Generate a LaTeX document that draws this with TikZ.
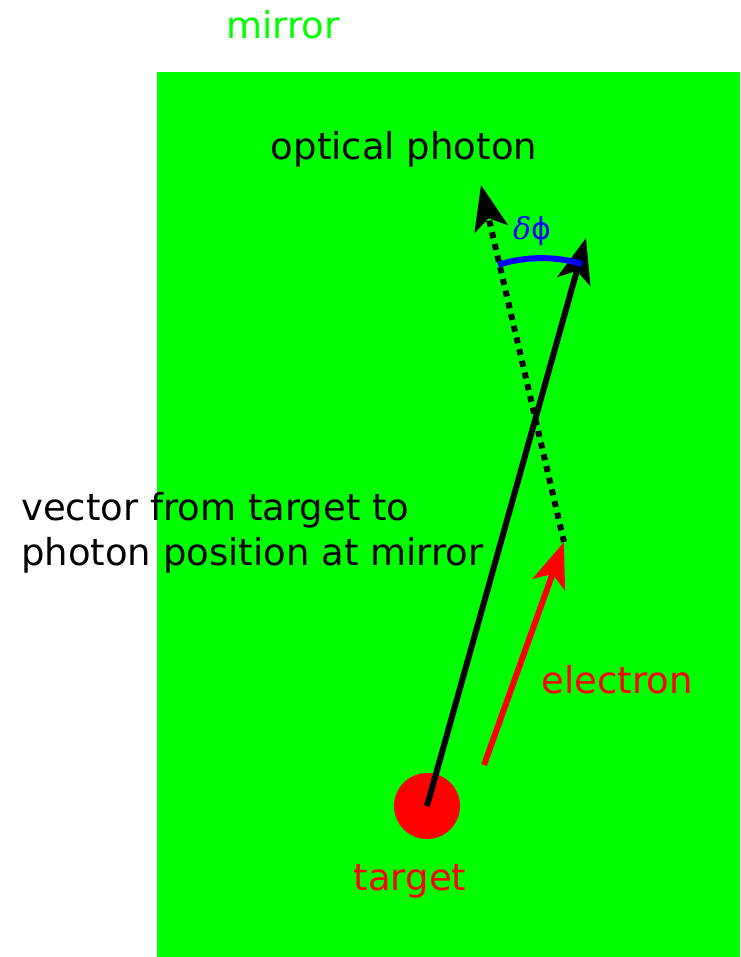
\documentclass[tikz,border=0pt]{standalone}
\usepackage{fontspec}
\setmainfont{DejaVu Sans}
\newfontfamily\serifgreek{DejaVu Serif}
\usetikzlibrary{arrows.meta,
                positioning}

\begin{document}
\begin{tikzpicture}[x=1pt, y=-1pt,
every node/.style = {font=\fontsize{37}{45}\selectfont, inner sep=0pt},
big arrow/.style  = {-{Stealth[length=45pt, width=34pt, inset=11pt]},
                     line width=6pt},
photon/.style     = {big arrow, dash pattern=on 6pt off 6pt}
                    ]
\useasboundingbox (0,0) rectangle (740,957);
% mirror plane
\node (plane) [fill=green, minimum width=583pt, minimum height=885pt,
               anchor=north west] at (157,72) {};
\node (mirror) [green, anchor=base] at (283,39) {mirror};
% target and electron
\node (target) [circle, fill=red, minimum size=66pt] at (427,806) {};
\node (targetlabel) [red, anchor=base] at (410,890) {target};
\coordinate (ebase) at (484,765);
\coordinate (hit)   at (564,542);
\draw[big arrow, red] (ebase) -- (hit);
\node (electron) [red, anchor=base] at (617,693) {electron};
% photon and vector
\coordinate (ptip) at (481,185);
\coordinate (vtip) at (586,238);
\draw[photon] (hit) -- (ptip);
\draw[big arrow] (target.center) -- (vtip);
\node (photonlabel) [anchor=base] at (404,160) {optical photon};
\node (vectorlabel) [align=left, anchor=north west] at (21,492)
      {vector from target to\\photon position at mirror};
% angle
\coordinate (arcstart) at (498,265);
\coordinate (arcend)   at (582,264);
\draw[blue, line width=6pt] (arcstart) .. controls (525,256) and (556,256) .. (arcend);
\node (dphi) [blue, font=\fontsize{30}{36}\selectfont, anchor=base] at (532,240)
      {{\serifgreek\itshape δ}ϕ};
\end{tikzpicture}
\end{document}
